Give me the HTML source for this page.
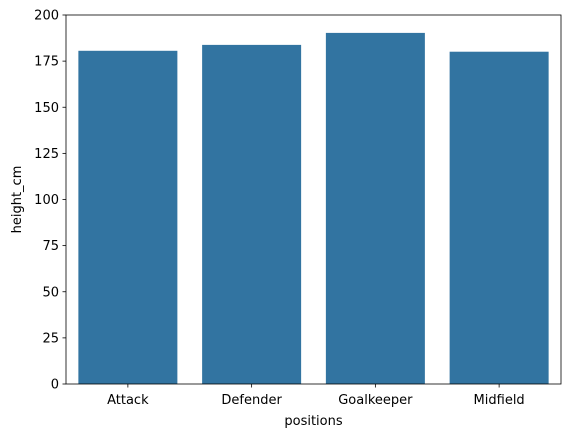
<!DOCTYPE html>
<html><head><meta charset="utf-8"><style>
body{margin:0;background:#fff;font-family:"Liberation Sans","DejaVu Sans",sans-serif;}
svg text{font-family:"DejaVu Sans","Liberation Sans",sans-serif;font-size:13px;fill:#000;}
</style></head><body>
<svg id="chart" width="571" height="438"></svg>
<script>
const categories=["Attack","Defender","Goalkeeper","Midfield"];
const values=[180.6,183.8,190.3,180.1];
const yTicks=[0,25,50,75,100,125,150,175,200];
const NS="http://www.w3.org/2000/svg";
const svg=document.getElementById("chart");
const L=66,R=561,T=15,B=384;
const y=v=>B-(v/200)*(B-T);
const band=(R-L)/categories.length;
const x=i=>L+band*i+band/2;
function mk(t,a){const e=document.createElementNS(NS,t);for(const k in a)e.setAttribute(k,a[k]);svg.appendChild(e);return e;}
categories.forEach((c,i)=>{
 const w=band*0.8;
 const r=mk("rect",{x:x(i)-w/2,y:y(values[i]),width:w,height:B-y(values[i]),fill:"#3274a1"});
 
 
 mk("line",{x1:x(i),x2:x(i),y1:B,y2:B+3.5,stroke:"#000","stroke-width":0.8});
 const t=mk("text",{x:x(i),y:B+20,"text-anchor":"middle"});t.textContent=c;
 
 
});
yTicks.forEach(v=>{
 mk("line",{x1:L-3.5,x2:L,y1:y(v),y2:y(v),stroke:"#000","stroke-width":0.8});
 const t=mk("text",{x:L-7,y:y(v)+4.5,"text-anchor":"end"});t.textContent=v;
 
 
});
const fr=mk("rect",{x:L,y:T,width:R-L,height:B-T,fill:"none",stroke:"#000","stroke-width":0.8});


const xl=mk("text",{x:(L+R)/2,y:425,"text-anchor":"middle"});xl.textContent="positions";


const yl=mk("text",{x:21,y:(T+B)/2,"text-anchor":"middle",transform:"rotate(-90 21 "+((T+B)/2)+")"});yl.textContent="height_cm";


</script>
</body></html>
